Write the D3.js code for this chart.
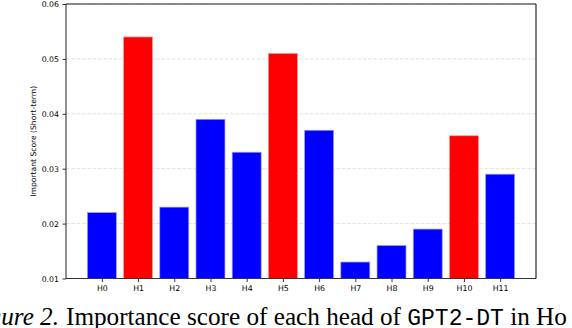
<!DOCTYPE html>
<html>
<head>
<meta charset="utf-8">
<script src="https://cdn.jsdelivr.net/npm/d3@7"></script>
<style>
  body { margin: 0; background: #fff; }
  svg { display: block; }
</style>
</head>
<body>
<div id="chart"></div>
<script>
const heads = ["H0", "H1", "H2", "H3", "H4", "H5", "H6", "H7", "H8", "H9", "H10", "H11"];
const scores = [0.022, 0.054, 0.023, 0.039, 0.033, 0.051, 0.037, 0.013, 0.016, 0.019, 0.036, 0.029];
const highlighted = ["H1", "H5", "H10"];
const yTicks = [0.01, 0.02, 0.03, 0.04, 0.05, 0.06];

const w = 572;
const h = 328;
const plotLeft = 66, plotRight = 536, plotTop = 4, plotBottom = 278.5;

const svg = d3.select("#chart")
  .append("svg")
  .attr("width", w)
  .attr("height", h);

// matplotlib-like x range: bars at 0..11, width 0.8, 5% margins
const xScale = d3.scaleLinear()
  .domain([-0.99, 11.99])
  .range([plotLeft, plotRight]);
const barW = xScale(0.8) - xScale(0);

const yScale = d3.scaleLinear()
  .domain([0.01, 0.06])
  .range([plotBottom, plotTop]);

// grid
svg.append("g")
  .selectAll("line")
  .data(yTicks)
  .enter()
  .append("line")
  .attr("x1", plotLeft)
  .attr("x2", plotRight)
  .attr("y1", d => yScale(d))
  .attr("y2", d => yScale(d))
  .attr("stroke", "#d9d9d9")
  .attr("stroke-width", 0.8)
  .attr("stroke-dasharray", "3.7,1.6");

// bars
svg.selectAll("rect.bar")
  .data(heads)
  .enter()
  .append("rect")
  .attr("class", "bar")
  .attr("x", (d, i) => xScale(i) - barW / 2)
  .attr("y", (d, i) => yScale(scores[i]))
  .attr("width", barW)
  .attr("height", (d, i) => plotBottom - yScale(scores[i]))
  .attr("fill", d => highlighted.includes(d) ? "#ff0000" : "#0000ff")
  .attr("stroke", d => highlighted.includes(d) ? "#ff9a9a" : "#9a9aff")
  .attr("stroke-width", 0.7);

// axes
const xAxis = d3.axisBottom(xScale)
  .tickValues(d3.range(heads.length))
  .tickFormat(i => heads[i])
  .tickSize(3.5)
  .tickPadding(3.5);

const yAxis = d3.axisLeft(yScale)
  .tickValues(yTicks)
  .tickFormat(d3.format(".2f"))
  .tickSize(3.5)
  .tickPadding(3.5);

const gx = svg.append("g")
  .attr("transform", `translate(0, ${plotBottom})`)
  .call(xAxis);

const gy = svg.append("g")
  .attr("transform", `translate(${plotLeft}, 0)`)
  .call(yAxis);

[gx, gy].forEach(g => {
  g.select(".domain").remove();
  g.selectAll("text")
    .attr("font-family", "DejaVu Sans")
    .attr("font-size", 7.8)
    .attr("fill", "#000");
  g.selectAll(".tick line").attr("stroke", "#000").attr("stroke-width", 0.8);
});

// spines
svg.append("line").attr("x1", plotLeft).attr("x2", plotRight).attr("y1", plotTop).attr("y2", plotTop)
  .attr("stroke", "#666").attr("stroke-width", 1.4);
svg.append("line").attr("x1", plotLeft).attr("x2", plotRight).attr("y1", plotBottom).attr("y2", plotBottom)
  .attr("stroke", "#333").attr("stroke-width", 1);
svg.append("line").attr("x1", plotLeft).attr("x2", plotLeft).attr("y1", plotTop).attr("y2", plotBottom)
  .attr("stroke", "#222").attr("stroke-width", 1);
svg.append("line").attr("x1", plotRight).attr("x2", plotRight).attr("y1", plotTop).attr("y2", plotBottom)
  .attr("stroke", "#000").attr("stroke-width", 1);

// y label
svg.append("text")
  .attr("x", -(plotTop + plotBottom) / 2)
  .attr("y", 36)
  .attr("text-anchor", "middle")
  .attr("transform", "rotate(-90)")
  .attr("font-family", "DejaVu Sans")
  .attr("font-size", 7.6)
  .text("Important Score (Short-term)");

// caption (cut off by the crop, as in the source image)
svg.append("text")
  .attr("x", 59)
  .attr("y", 325)
  .attr("text-anchor", "end")
  .attr("font-family", "Liberation Serif")
  .attr("font-style", "italic")
  .attr("font-size", 25.2)
  .text("Figure 2.");

const cap = svg.append("text")
  .attr("x", 66)
  .attr("y", 325)
  .attr("font-family", "Liberation Serif")
  .attr("font-size", 25.2);
cap.append("tspan").text("Importance score of each head of ");
cap.append("tspan").attr("font-family", "Liberation Mono").attr("font-size", 23).text("GPT2-DT");
cap.append("tspan").text(" in Ho");
</script>
</body>
</html>
